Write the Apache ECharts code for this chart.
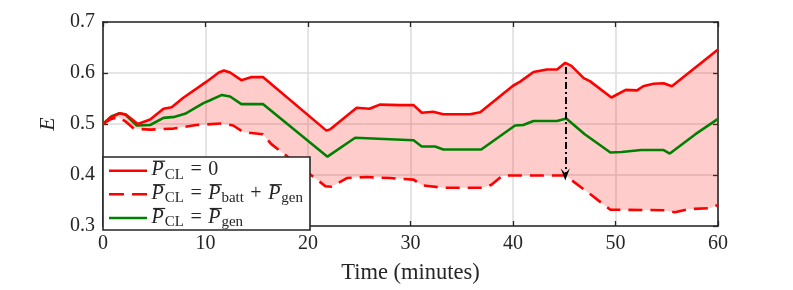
<!DOCTYPE html>
<html><head><meta charset="utf-8">
<script src="https://cdn.jsdelivr.net/npm/echarts@6/dist/echarts.min.js"></script>
<style>html,body{margin:0;padding:0;background:#fff}#c{width:793px;height:290px}</style>
</head><body><div id="c"></div>
<script>
// ---- data ----
const xMin = 0, xMax = 60, xStep = 10;
const yMin = 0.3, yMax = 0.7, yStep = 0.1;
const xTitle = 'Time (minutes)';
const yTitle = 'E';

// P_CL = 0 (red solid)
const noCL = [[0,0.500],[0.8,0.513],[1.6,0.521],[2.2,0.519],[3.4,0.500],[4.6,0.509],[5.9,0.530],[6.7,0.533],[7.8,0.551],[10.1,0.583],[11.3,0.601],[11.8,0.605],[12.4,0.601],[13.5,0.586],[14.5,0.592],[15.6,0.592],[21.8,0.487],[22.2,0.490],[24.75,0.532],[26.0,0.530],[27.0,0.538],[29.0,0.537],[30.3,0.537],[31.1,0.522],[32.2,0.524],[33.2,0.519],[35.8,0.519],[36.8,0.523],[40.0,0.575],[40.7,0.583],[42.0,0.602],[43.3,0.607],[44.3,0.607],[45.1,0.620],[45.7,0.614],[46.9,0.590],[47.5,0.584],[49.6,0.552],[51.0,0.567],[52.1,0.566],[52.7,0.574],[53.7,0.579],[54.7,0.580],[55.5,0.574],[60,0.646]];
// P_CL = P_batt + P_gen (red dashed)
const battGen = [[0,0.500],[0.8,0.510],[1.5,0.513],[2.2,0.505],[3.0,0.491],[4.6,0.489],[6.9,0.491],[9.1,0.498],[11.6,0.501],[12.7,0.497],[13.7,0.484],[15.6,0.480],[16.4,0.461],[21.7,0.378],[22.3,0.377],[23.8,0.394],[25.7,0.396],[28.0,0.394],[30.3,0.391],[31.1,0.380],[33.2,0.375],[37.1,0.375],[37.9,0.381],[39.0,0.399],[44.3,0.399],[45.1,0.399],[47.3,0.366],[49.5,0.332],[54.8,0.331],[55.8,0.327],[57.1,0.333],[59.2,0.335],[60,0.341]];
// P_CL = P_gen (green)
const genOnly = [[0,0.500],[0.8,0.515],[1.6,0.521],[2.2,0.518],[3.3,0.497],[4.6,0.498],[5.9,0.512],[7.0,0.514],[8.0,0.520],[9.8,0.541],[10.4,0.546],[11.6,0.557],[12.4,0.554],[13.5,0.539],[15.6,0.539],[21.9,0.436],[24.6,0.473],[28.0,0.470],[30.3,0.468],[31.1,0.456],[32.4,0.456],[33.2,0.450],[36.9,0.450],[40.2,0.497],[41.0,0.498],[42.0,0.506],[44.3,0.506],[45.2,0.511],[47.0,0.480],[49.5,0.444],[50.6,0.445],[52.5,0.449],[54.7,0.449],[55.3,0.442],[57.8,0.480],[60,0.510]];
// annotation arrow
const arrowTime = 45.1, arrowFrom = 0.612, arrowTo = 0.401;

// legend entries: segments [kind, text]
const legendEntries = [
  {color:'#ff0000', dashed:false, segs:[['P','P'],['sub','CL'],['op','='],['txt','0']]},
  {color:'#ff0000', dashed:true,  segs:[['P','P'],['sub','CL'],['op','='],['P','P'],['sub','batt'],['op','+'],['P','P'],['sub','gen']]},
  {color:'#008000', dashed:false, segs:[['P','P'],['sub','CL'],['op','='],['P','P'],['sub','gen']]}
];

// ---- styling ----
const SERIF = "'Liberation Serif','Times New Roman',serif";
const INK = '#262626';
const chart = echarts.init(document.getElementById('c'), null, {renderer:'canvas'});

const mctx = document.createElement('canvas').getContext('2d');
function tw(font, s){ mctx.font = font; return mctx.measureText(s).width; }

function buildLegend(){
  const els = [];
  const bx = 103, by = 157, bw = 207, bh = 73;
  els.push({type:'rect', shape:{x:bx, y:by, width:bw, height:bh}, style:{fill:'#fff', stroke:INK, lineWidth:1.6}, z:100});
  const baselines = [176.7, 200.2, 224];
  const fMain = `20px ${SERIF}`, fIt = `italic 20px ${SERIF}`, fSub = `15px ${SERIF}`;
  legendEntries.forEach((e, i) => {
    const b = baselines[i];
    const cy = b - 6;
    els.push({type:'line', shape:{x1:109, y1:cy, x2:147, y2:cy}, style:{stroke:e.color, lineWidth:2.6, lineDash: e.dashed ? [15,8] : null}, z:101});
    let x = 151.5;
    e.segs.forEach(([k, t]) => {
      if (k === 'P') {
        const w = tw(fIt, t);
        els.push({type:'text', x:x, y:b - 6.5, style:{text:t, font:fIt, fill:INK, align:'left', verticalAlign:'middle'}, z:101});
        els.push({type:'line', shape:{x1:x + 1.5, y1:b - 15.5, x2:x + w + 1.5, y2:b - 15.5}, style:{stroke:INK, lineWidth:1.2}, z:101});
        x += w + 1;
      } else if (k === 'sub') {
        const w = tw(fSub, t);
        els.push({type:'text', x:x, y:b + 3 - 5, style:{text:t, font:fSub, fill:INK, align:'left', verticalAlign:'middle'}, z:101});
        x += w;
      } else if (k === 'op') {
        const gap = 6.5;
        x += gap;
        const w = tw(fMain, t);
        els.push({type:'text', x:x, y:b - 6.5, style:{text:t, font:fMain, fill:INK, align:'left', verticalAlign:'middle'}, z:101});
        x += w + gap;
      } else {
        const w = tw(fMain, t);
        els.push({type:'text', x:x, y:b - 6.5, style:{text:t, font:fMain, fill:INK, align:'left', verticalAlign:'middle'}, z:101});
        x += w;
      }
    });
  });
  return els;
}

const axisCommon = {
  axisLine:{show:true, onZero:false, lineStyle:{color:INK, width:1.6}},
  axisTick:{show:true, inside:true, length:5, lineStyle:{color:INK, width:1.3}},
};
const labelStyle = {fontFamily:SERIF, fontSize:20, color:INK};

chart.setOption({
  animation:false,
  backgroundColor:'#fff',
  grid:{left:103, right:75, top:22, bottom:59, containLabel:false},
  xAxis:[
    Object.assign({type:'value', min:xMin, max:xMax, interval:xStep, position:'bottom',
      name:xTitle, nameLocation:'middle', nameGap:36,
      nameTextStyle:{fontFamily:SERIF, fontSize:22.5, color:INK},
      axisLabel:Object.assign({margin:8}, labelStyle),
      splitLine:{show:true, lineStyle:{color:'#dcdcdc', width:1.5}}}, axisCommon),
    Object.assign({type:'value', min:xMin, max:xMax, interval:xStep, position:'top',
      axisLabel:{show:false}, splitLine:{show:false}}, axisCommon)
  ],
  yAxis:[
    Object.assign({type:'value', min:yMin, max:yMax, interval:yStep, position:'left',
      name:yTitle, nameLocation:'middle', nameGap:41, nameRotate:90,
      nameTextStyle:{fontFamily:SERIF, fontSize:22, color:INK, fontStyle:'italic'},
      axisLabel:Object.assign({margin:8, formatter:v => v.toFixed(1)}, labelStyle),
      splitLine:{show:true, lineStyle:{color:'#dcdcdc', width:1.5}}}, axisCommon),
    Object.assign({type:'value', min:yMin, max:yMax, interval:yStep, position:'right',
      axisLabel:{show:false}, splitLine:{show:false}}, axisCommon)
  ],
  graphic: buildLegend(),
  series:[
    {
      type:'custom', name:'band', silent:true, z:1,
      data:[[30, 0.5]],
      renderItem:(params, api) => {
        const pts = noCL.map(p => api.coord(p)).concat(battGen.slice().reverse().map(p => api.coord(p)));
        return {type:'polygon', shape:{points:pts}, style:{fill:'rgba(255,0,0,0.2)'}};
      }
    },
    {type:'line', name:'battGen', data:battGen, symbol:'none', z:3,
      lineStyle:{color:'#ff0000', width:2.6, type:[14,8]}},
    {type:'line', name:'genOnly', data:genOnly, symbol:'none', z:3,
      lineStyle:{color:'#008000', width:2.6}},
    {type:'line', name:'noCL', data:noCL, symbol:'none', z:3,
      lineStyle:{color:'#ff0000', width:2.6},
      markLine:{silent:true, animation:false, symbolSize:[9,12],
        label:{show:false},
        lineStyle:{color:'#000', width:2, type:[7,3,2,3]},
        data:[[{coord:[arrowTime, arrowFrom], symbol:'none'},
               {coord:[arrowTime, arrowTo], symbol:'path://M5,0 L10,12 L5,7 L0,12 Z'}]]}}
  ]
});
</script></body></html>
